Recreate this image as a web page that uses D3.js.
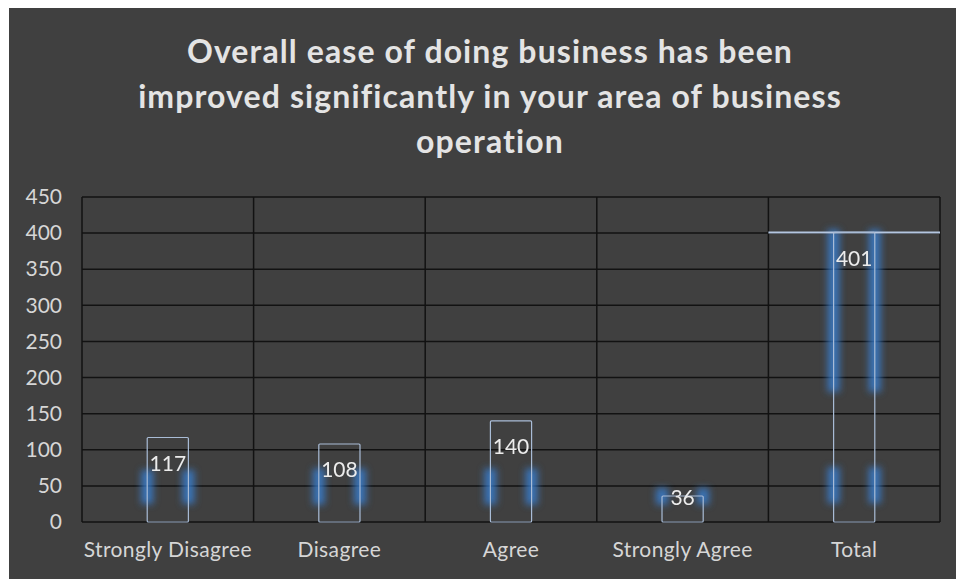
<!DOCTYPE html>
<html>
<head>
<meta charset="utf-8">
<script src="https://cdn.jsdelivr.net/npm/d3@7"></script>
<style>
  html, body { margin: 0; padding: 0; background: #ffffff; }
  svg { display: block; }
  text { font-variant-ligatures: none; }
</style>
</head>
<body>
<svg id="chart" width="956" height="579"></svg>
<script>
// Survey responses
const categories = ["Strongly Disagree", "Disagree", "Agree", "Strongly Agree", "Total"];
const counts = [117, 108, 140, 36, 401];
const yTicks = [0, 50, 100, 150, 200, 250, 300, 350, 400, 450];
const titleLines = [
  "Overall ease of doing business has been",
  "improved significantly in your area of business",
  "operation"
];
// Value ranges of the soft blue glow along each bar's sides
const glowRanges = [
  [[25, 72]],
  [[24, 74]],
  [[24, 74]],
  [[24, 47]],
  [[180, 405], [26, 76]]
];

const svg = d3.select("#chart");
const W = 956, H = 579;
const font = "Lato, 'Open Sans', sans-serif";

// panel
svg.append("rect").attr("x", 9).attr("y", 8).attr("width", W - 9).attr("height", H - 8)
  .attr("fill", "#404040");

const defs = svg.append("defs");
const blur = defs.append("filter").attr("id", "glow")
  .attr("x", "-200%").attr("y", "-50%").attr("width", "500%").attr("height", "200%");
blur.append("feGaussianBlur").attr("stdDeviation", 3.5);

const x = d3.scaleBand().domain(categories).range([82, 940]).padding(0);
const y = d3.scaleLinear().domain([0, 450]).range([522, 197]);
const barW = x.bandwidth() * 0.24;

// title
svg.append("g").selectAll("text").data(titleLines).join("text")
  .attr("x", 490).attr("y", (d, i) => 63 + i * 45)
  .attr("text-anchor", "middle")
  .attr("font-family", font).attr("font-weight", "bold").attr("font-size", 32)
  .attr("letter-spacing", 1.1)
  .attr("fill", "#e4e4e4")
  .text(d => d);

// horizontal gridlines
svg.append("g").selectAll("line").data(yTicks).join("line")
  .attr("x1", 82).attr("x2", 940)
  .attr("y1", d => y(d)).attr("y2", d => y(d))
  .attr("stroke", "#121212").attr("stroke-width", 1.5);

// vertical gridlines at category boundaries
const bounds = categories.map(c => x(c)).concat([x.range()[1]]);
svg.append("g").selectAll("line").data(bounds).join("line")
  .attr("x1", d => d).attr("x2", d => d)
  .attr("y1", y(450)).attr("y2", y(0))
  .attr("stroke", "#121212").attr("stroke-width", 1.5);

// y axis tick labels
const yAxis = d3.axisLeft(y).tickValues(yTicks).tickSize(0).tickPadding(20);
const gy = svg.append("g").attr("transform", "translate(82,0)").call(yAxis);
gy.select(".domain").remove();
gy.selectAll("text").attr("font-family", font).attr("font-size", 21).attr("fill", "#d6d6d6");

// x axis labels
const xAxis = d3.axisBottom(x).tickSize(0).tickPadding(20);
const gx = svg.append("g").attr("transform", `translate(0,${y(0)})`).call(xAxis);
gx.select(".domain").remove();
gx.selectAll("text").attr("font-family", font).attr("font-size", 21)
  .attr("letter-spacing", 0.4).attr("fill", "#d6d6d6");

// glow along bar sides
const glowData = [];
categories.forEach((c, i) => {
  glowRanges[i].forEach(r => {
    [x(c) + (x.bandwidth() - barW) / 2, x(c) + (x.bandwidth() + barW) / 2].forEach(edge => {
      glowData.push({ edge, lo: r[0], hi: r[1] });
    });
  });
});
svg.append("g").attr("filter", "url(#glow)").selectAll("rect").data(glowData).join("rect")
  .attr("x", d => d.edge - 6).attr("width", 12)
  .attr("y", d => y(d.hi)).attr("height", d => y(d.lo) - y(d.hi))
  .attr("fill", "#3a7fd4").attr("opacity", 0.8);

// top line of the Total band
const totalIdx = categories.length - 1;
const topG = svg.append("g");
topG.append("line")
  .attr("x1", x(categories[totalIdx])).attr("x2", x.range()[1])
  .attr("y1", y(counts[totalIdx])).attr("y2", y(counts[totalIdx]))
  .attr("stroke", "#3a7fd4").attr("stroke-width", 6).attr("opacity", 0.8)
  .attr("filter", "url(#glow)");
topG.append("line")
  .attr("x1", x(categories[totalIdx])).attr("x2", x.range()[1])
  .attr("y1", y(counts[totalIdx])).attr("y2", y(counts[totalIdx]))
  .attr("stroke", "#b4c6e0").attr("stroke-width", 2);

// outlined bars
svg.append("g").selectAll("rect").data(categories).join("rect")
  .attr("x", d => x(d) + (x.bandwidth() - barW) / 2)
  .attr("width", barW)
  .attr("y", (d, i) => y(counts[i]))
  .attr("height", (d, i) => y(0) - y(counts[i]))
  .attr("rx", 1)
  .attr("fill", "none")
  .attr("stroke", "#a9bcd6").attr("stroke-width", 1.2);

// value labels
svg.append("g").selectAll("text").data(categories).join("text")
  .attr("x", d => x(d) + x.bandwidth() / 2)
  .attr("y", (d, i) => Math.min(y(counts[i]) + 26, y(0) - 24))
  .attr("dy", "0.35em")
  .attr("text-anchor", "middle")
  .attr("font-family", font).attr("font-size", 21).attr("fill", "#ececec")
  .text((d, i) => counts[i]);
</script>
</body>
</html>
